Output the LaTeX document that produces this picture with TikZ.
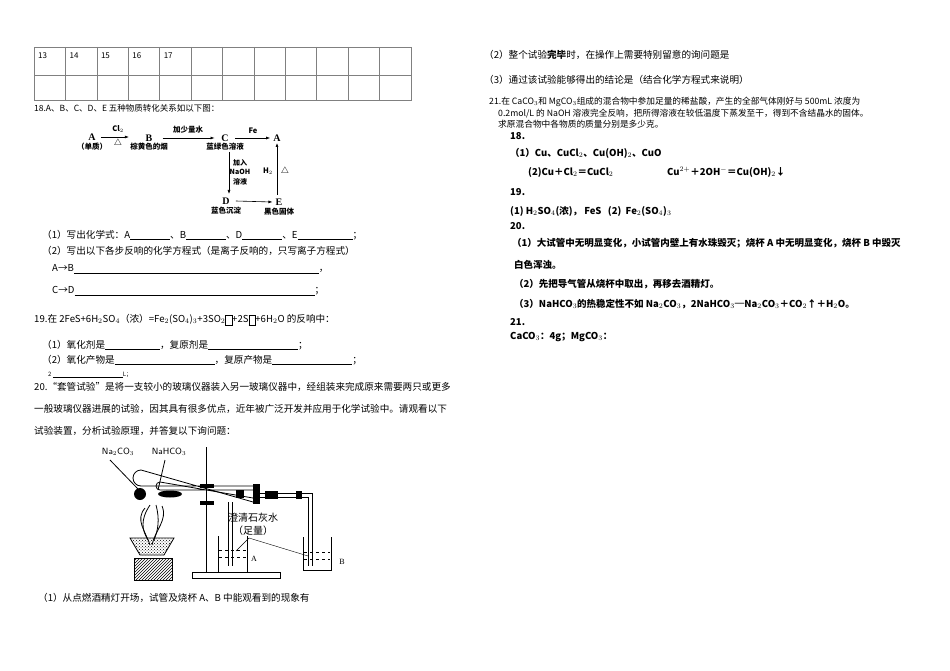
\documentclass[tikz,border=0pt]{standalone}
\usepackage{fontspec}
\setmainfont{Liberation Serif}
\newfontfamily\cjk{Noto Sans CJK SC}
\usetikzlibrary{patterns,arrows.meta}
\begin{document}
\begin{tikzpicture}[x=1pt,y=-1pt,
  txt/.style={anchor=west,inner sep=0,font=\fontsize{9.6}{10}\selectfont\cjk},
  ans/.style={anchor=west,inner sep=0,font=\fontsize{9.5}{10}\selectfont\bfseries\cjk},
  lbl/.style={inner sep=0,font=\fontsize{7.5}{8}\selectfont\bfseries\cjk},
  big/.style={inner sep=0,font=\fontsize{10}{11}\selectfont\bfseries},
  arr/.style={-{Latex[length=4pt,width=3pt]},line width=0.6pt},
  app/.style={line width=0.8pt}]
\useasboundingbox (0,0) rectangle (950,671);
% table
\draw[gray,line width=0.5pt] (34,47) rectangle (411,100);
\draw[gray,line width=0.5pt] (34,75) -- (411,75);
\foreach \i in {1,...,11} \draw[gray,line width=0.5pt] ({34+\i*31.4},47) -- ({34+\i*31.4},100);
\foreach \n [count=\i from 0] in {13,14,15,16,17} \node[txt,font=\fontsize{8}{9}\selectfont\cjk] (t\n) at ({38+\i*31.4},56) {\n};
\node[txt,font=\fontsize{8.5}{9}\selectfont\cjk] (q18) at (34,108) {18.A、B、C、D、E 五种物质转化关系如以下图：};
% scheme
\node[big] (A) at (92,137) {A}; \node[lbl] (A1) at (92,147) {（单质）};
\node[big] (B) at (149,138) {B}; \node[lbl] (B1) at (149,147) {棕黄色的烟};
\node[big] (C) at (225,138) {C}; \node[lbl] (C1) at (225,147) {蓝绿色溶液};
\node[big] (A2) at (277,138) {A};
\node[big] (D) at (226,201) {D}; \node[lbl] (D1) at (226,211) {蓝色沉淀};
\node[big] (E) at (279,202) {E}; \node[lbl] (E1) at (279,212) {黑色固体};
\draw[arr] (A.east)++(5,0) -- ++(28,0) coordinate (ab);
\node[lbl] (cl) at (118,129) {Cl$_2$}; \node[inner sep=0,font=\small] (tr1) at (118,143) {$\triangle$};
\draw[arr] (B.east)++(10,0) -- ++(52,0);
\node[lbl] (w) at (188,130) {加少量水};
\draw[arr] (C.east)++(6,0) -- ([xshift=-3pt]A2.west);
\node[lbl] (fe) at (253,131) {Fe};
\draw[arr] (229,152) -- (229,194);
\node[lbl,align=center,font=\fontsize{7}{9.5}\selectfont\bfseries\cjk] (na) at (240,172) {加入\\NaOH\\溶液};
\draw[arr] (D.east)++(6,0) -- ([xshift=-3pt]E.west);
\draw[arr] (277,195) -- (277,143);
\node[lbl] (h2) at (268,171) {H$_2$}; \node[inner sep=0,font=\small] (tr2) at (285,171) {$\triangle$};
% q18 parts
\node[txt] (p1) at (42,235) {（1）写出化学式：A\underline{\hspace{40pt}}、B\underline{\hspace{40pt}}、D\underline{\hspace{40pt}}、E\underline{\hspace{55pt}}；};
\node[txt] (p2) at (42,251) {（2）写出以下各步反响的化学方程式（是离子反响的，只写离子方程式）};
\node[txt] (p3) at (52,269) {A→B\underline{\hspace{245pt}}，};
\node[txt] (p4) at (52,291) {C→D\underline{\hspace{240pt}}；};
\node[txt] (q19) at (34,320) {19.在 2FeS+6H$_2$SO$_4$（浓）=Fe$_2$(SO$_4$)$_3$+3SO$_2$\fbox{\rule{0pt}{4pt}}+2S\fbox{\rule{0pt}{4pt}}+6H$_2$O 的反响中：};
\node[txt] (r1) at (42,345) {（1）氧化剂是\underline{\hspace{55pt}}，复原剂是\underline{\hspace{90pt}}；};
\node[txt] (r2) at (42,360) {（2）氧化产物是\underline{\hspace{100pt}}，复原产物是\underline{\hspace{80pt}}；};
\node[txt,font=\fontsize{6}{7}\selectfont\cjk] (r3) at (48,375) {2 \underline{\hspace{70pt}}L；};
\node[txt] (q20) at (34,387) {20.“套管试验”是将一支较小的玻璃仪器装入另一玻璃仪器中，经组装来完成原来需要两只或更多};
\node[txt] (q20b) at (34,409) {一般玻璃仪器进展的试验，因其具有很多优点，近年被广泛开发并应用于化学试验中。请观看以下};
\node[txt] (q20c) at (34,431) {试验装置，分析试验原理，并答复以下询问题：};
% apparatus
\node[inner sep=0,font=\fontsize{9}{10}\selectfont\sffamily] (na2) at (118,452) {Na$_2$CO$_3$};
\node[inner sep=0,font=\fontsize{9}{10}\selectfont\sffamily] (nah) at (169,452) {NaHCO$_3$};
\draw[app] (206,447) -- (206,572);
\draw[app,fill=white] (192,572) rectangle (280,578);
\draw[app] (253,486) -- (141,486) arc(90:270:8) -- (253,502);
\draw[app] (253,490) -- (160,490) arc(90:270:4) -- (253,498);
\fill (140,494) ellipse (6 and 6);
\fill (170,494) ellipse (12 and 3.5);
\draw[app] (110,460) -- (138,489);
\draw[app] (165,460) -- (158,490);
\fill (200,484) rectangle (214,488); \fill (200,501) rectangle (214,505);
\fill (253,484) rectangle (260,504);
\fill (236,490) rectangle (244,498);
\draw[app] (260,493) -- (312,493) -- (312,566);
\draw[app] (260,497) -- (308,497) -- (308,566);
\fill (265,491) rectangle (278,499); \fill (296,491) rectangle (302,499);
\draw[app] (228,502) -- (228,566); \draw[app] (232,502) -- (232,566);
% beakers
\draw[app] (218,536) -- (218,572) -- (247,572) -- (247,536);
\draw[dashed] (219,550) -- (246,550); \draw[dashed] (219,557) -- (246,557);
\draw[app] (303,537) -- (303,570) -- (331,570) -- (331,537);
\draw[dashed] (304,552) -- (330,552); \draw[dashed] (304,559) -- (330,559);
\node[inner sep=0,font=\fontsize{10}{11}\selectfont\cjk] (lime) at (253,518) {澄清石灰水};
\node[inner sep=0,font=\fontsize{10}{11}\selectfont\cjk] (zl) at (253,531) {（足量）};
\draw (249,538) -- (236,551); \draw (249,538) -- (308,556);
\node[inner sep=0,font=\fontsize{8}{9}\selectfont] (la) at (254,559) {A};
\node[inner sep=0,font=\fontsize{8}{9}\selectfont] (lb) at (342,562) {B};
% lamp
\draw[app] (150,505) .. controls (140,520) and (142,530) .. (148,540);
\draw[app] (156,505) .. controls (160,520) and (158,530) .. (154,540);
\draw[app] (145,508) .. controls (135,520) and (145,530) .. (150,545);
\draw[app] (162,506) .. controls (168,520) and (155,530) .. (152,545);
\draw[app,pattern=crosshatch dots] (130,538) -- (174,538) -- (164,555) -- (140,555) -- cycle;
\draw[app,pattern=north east lines] (134,558) rectangle (172,580);
\node[txt] (cap) at (38,598) {（1）从点燃酒精灯开场，试管及烧杯 A、B 中能观看到的现象有};
% right column
\node[txt] (s2) at (484,55) {（2）整个试验\textbf{\textit{完毕}}时，在操作上需要特别留意的询问题是};
\node[txt] (s3) at (484,80) {（3）通过该试验能够得出的结论是（结合化学方程式来说明）};
\node[txt,align=left,font=\fontsize{8.7}{11.5}\selectfont\cjk] (q21) at (489,113) {21.在 CaCO$_3$和 MgCO$_3$组成的混合物中参加足量的稀盐酸，产生的全部气体刚好与 500mL 浓度为\\\hspace{9pt}0.2mol/L 的 NaOH 溶液完全反响，把所得溶液在较低温度下蒸发至干，得到不含结晶水的固体。\\\hspace{9pt}求原混合物中各物质的质量分别是多少克。};
\node[ans] (a18) at (510,136) {18.};
\node[ans] (a181) at (510,153) {（1）Cu、CuCl$_2$、Cu(OH)$_2$、CuO};
\node[ans] (a182) at (528,172) {(2)Cu＋Cl$_2$＝CuCl$_2$};
\node[ans] (a183) at (667,172) {Cu$^{2+}$＋2OH$^-$＝Cu(OH)$_2$↓};
\node[ans] (a19) at (510,192) {19.};
\node[ans] (a191) at (510,211) {(1) H$_2$SO$_4$(浓)，\ FeS \ \ (2) \ Fe$_2$(SO$_4$)$_3$};
\node[ans] (a20) at (510,226) {20.};
\node[ans] (a201) at (512,243) {（1）大试管中无明显变化，小试管内壁上有水珠毁灭；烧杯 A 中无明显变化，烧杯 B 中毁灭};
\node[ans] (a202) at (514,265) {白色浑浊。};
\node[ans] (a203) at (514,284) {（2）先把导气管从烧杯中取出，再移去酒精灯。};
\node[ans] (a204) at (514,304) {（3）NaHCO$_3$的热稳定性不如 Na$_2$CO$_3$，2NaHCO$_3$═Na$_2$CO$_3$＋CO$_2$↑＋H$_2$O。};
\node[ans] (a21) at (510,322) {21.};
\node[ans] (a211) at (510,337) {CaCO$_3$：4g；MgCO$_3$：};
\end{tikzpicture}
\end{document}
